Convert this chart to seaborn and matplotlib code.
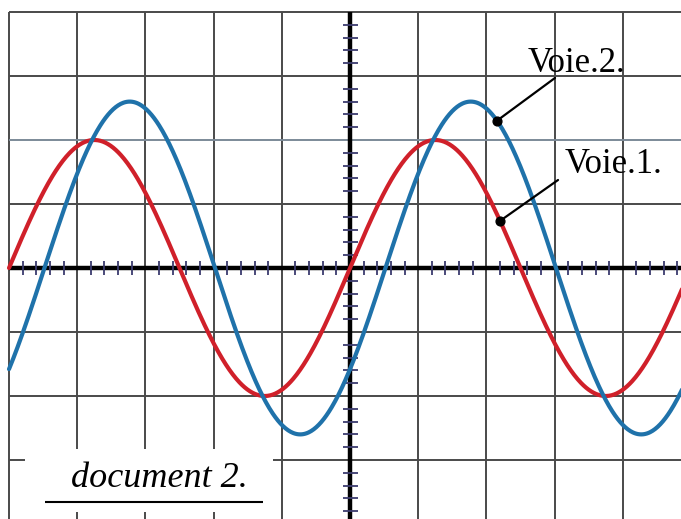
import numpy as np
import pandas as pd
import matplotlib
matplotlib.use("Agg")
import matplotlib.pyplot as plt
import seaborn as sns

# Oscilloscope screen: values in divisions
channels = ["Voie.1.", "Voie.2."]
amplitudes = [2.0, 2.6]       # div
periods = [5.0, 5.0]          # div
lags = [0.0, 0.52]            # div (Voie.2 lags Voie.1)
colors = ["#d0202a", "#1f72aa"]

grid_x = [-5, -4, -3, -2, -1, 0, 1, 2, 3, 4]
grid_y = [4, 3, 2, 1, 0, -1, -2, -3, -4]

# Build traces from the measured amplitude / period / lag
t = np.linspace(-5.0, 5.0, 800)
rows = []
for ch, a, p, d in zip(channels, amplitudes, periods, lags):
    rows.append(pd.DataFrame({"t": t, "u": a * np.sin(2 * np.pi * (t - d) / p), "voie": ch}))
df = pd.concat(rows, ignore_index=True)

sns.set_style("white")
plt.rcParams["font.family"] = ["Liberation Serif", "DejaVu Serif"]
plt.rcParams["text.color"] = "black"

fig = plt.figure(figsize=(6.81, 5.19), dpi=100)
ax = fig.add_axes([0, 0, 1, 1])

# graticule
for gx in grid_x:
    if gx != 0:
        ax.vlines(gx, -5, 4, color="#4a4a4a", lw=1.4, zorder=1)
for gy in grid_y:
    if gy != 0:
        c = "#7c8a98" if gy == 2 else "#4a4a4a"
        ax.hlines(gy, -5, 5, color=c, lw=1.4, zorder=1)

# central axes with subdivisions
ax.hlines(0, -5, 5, color="black", lw=3.2, zorder=2)
ax.vlines(0, -5, 4, color="black", lw=3.2, zorder=2)
sub = [round(v, 1) for v in np.arange(-5, 5, 0.2) if abs(v - round(v)) > 1e-6]
ax.vlines(sub, -0.11, 0.11, color="#3b3b6e", lw=1.3, zorder=2)
suby = [v for v in sub if -4 < v < 4]
ax.hlines(suby, -0.11, 0.11, color="#3b3b6e", lw=1.3, zorder=2)

# box for the caption
ax.fill_between([-4.765, -1.13], -3.81, -2.83, color="white", zorder=2.5, lw=0)
ax.text(-2.79, -3.42, "document 2.", fontsize=26, style="italic", ha="center",
        va="baseline", color="black", zorder=3)
ax.hlines(-3.656, -4.47, -1.276, color="black", lw=1.5, zorder=3)

sns.lineplot(data=df, x="t", y="u", hue="voie", palette=colors, lw=3.0,
             legend=False, sort=False, ax=ax, zorder=4)
ax.set_xlim(-5.132, 4.853)
ax.set_ylim(-3.922, 4.1875)
ax.axis("off")

# labels with pointers
labels = [("Voie.2.", 1, 2.155, (3.006, 2.97), (2.61, 3.06)),
          ("Voie.1.", 0, 2.20, (3.05, 1.375), (3.15, 1.48))]
for name, i, xd, start, txt in labels:
    yd = amplitudes[i] * np.sin(2 * np.pi * (xd - lags[i]) / periods[i])
    ax.plot([start[0], xd], [start[1], yd], color="black", lw=1.6, zorder=5)
    ax.scatter([xd], [yd], s=40, color="black", zorder=6)
    ax.text(txt[0], txt[1], name, fontsize=25, va="baseline", color="black", zorder=6)

fig.savefig("out.png", dpi=100)
